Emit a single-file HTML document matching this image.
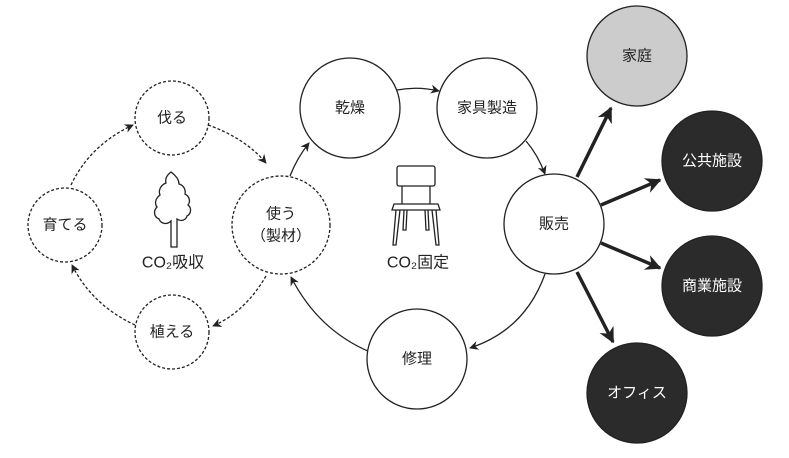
<!DOCTYPE html>
<html><head><meta charset="utf-8"><style>
html,body{margin:0;padding:0;background:#fff;}
svg{display:block;font-family:"Liberation Sans","Noto Sans CJK JP",sans-serif;}
</style></head><body>
<svg width="789" height="458" viewBox="0 0 789 458" xmlns="http://www.w3.org/2000/svg">
<defs>
<marker id="a" viewBox="0 0 10 10" refX="9" refY="5" markerWidth="7" markerHeight="7" orient="auto"><path d="M0,0 L10,5 L0,10 L3,5z" fill="#222"/></marker>
<marker id="b" viewBox="0 0 10 10" refX="9" refY="5" markerWidth="4.5" markerHeight="4.5" orient="auto"><path d="M0,0 L10,5 L0,10 L3,5z" fill="#222"/></marker>
</defs>
<g fill="none" stroke="#222" stroke-width="1.3">
<g stroke-dasharray="3,2">
<path d="M208,125 Q245,138 266,163" marker-end="url(#a)"/>
<path d="M266,276 Q245,312 213,326" marker-end="url(#a)"/>
<path d="M135,325 Q92,305 72,265" marker-end="url(#a)"/>
<path d="M71,185 Q90,145 133,125" marker-end="url(#a)"/>
</g>
<path d="M290,176 Q297,158 309,143" marker-end="url(#a)"/>
<path d="M397,90 Q418,86 439,91" marker-end="url(#a)"/>
<path d="M526,141 Q538,155 545,174" marker-end="url(#a)"/>
<path d="M545,274 Q525,330 470,348" marker-end="url(#a)"/>
<path d="M370,352 Q318,330 291,277" marker-end="url(#a)"/>
<g stroke-width="3.5">
<path d="M577,177 L611,108" marker-end="url(#b)"/>
<path d="M601,205 L660,180" marker-end="url(#b)"/>
<path d="M601,243 L660,268" marker-end="url(#b)"/>
<path d="M577,272 L613,342" marker-end="url(#b)"/>
</g>
</g>
<g stroke="#222" stroke-width="1.3" fill="#fff">
<g stroke-dasharray="3,2">
<circle cx="172" cy="118" r="37"/>
<circle cx="65" cy="225" r="37"/>
<circle cx="172" cy="332" r="37"/>
<circle cx="281" cy="225" r="49"/>
</g>
<circle cx="350" cy="108" r="50"/>
<circle cx="487" cy="108" r="50"/>
<circle cx="554" cy="224" r="50"/>
<circle cx="417" cy="359" r="50"/>
<circle cx="637" cy="56" r="50" fill="#cccccc"/>
<circle cx="712" cy="161" r="50" fill="#2b2b2b"/>
<circle cx="712" cy="286" r="50" fill="#2b2b2b"/>
<circle cx="637" cy="393" r="50" fill="#2b2b2b"/>
</g>
<g fill="none" stroke="#222" stroke-width="1.3">
<path d="M171,172 c-4,3 -6,7 -5,11 c-5,2 -8,7 -6,12 c-4,3 -6,8 -3,12 c-4,4 -3,10 2,12 c2,5 8,6 12,2 l0,26 l6,0 l0,-28 c4,3 9,1 10,-3 c4,-2 5,-8 1,-11 c3,-4 1,-9 -3,-11 c1,-5 -2,-9 -6,-10 c0,-5 -4,-9 -8,-12z"/>
<rect x="397" y="166" width="38" height="20" rx="2"/>
<path d="M402,186 v18 M430,186 v18"/>
<path d="M394,204 h44 l2,6 h-48z"/>
<path d="M396,210 l-3,35 h3 l4,-35 M404,210 l-1,20 h3 l1,-20 M428,210 l1,20 h-3 l-1,-20 M436,210 l3,35 h-3 l-4,-35"/>
</g>
<g font-size="15" fill="#222" text-anchor="middle" dominant-baseline="central">
<text x="172" y="118">伐る</text>
<text x="65" y="225">育てる</text>
<text x="172" y="332">植える</text>
<text x="281" y="214">使う</text>
<text x="281" y="236">（製材）</text>
<text x="350" y="108">乾燥</text>
<text x="487" y="108">家具製造</text>
<text x="554" y="224">販売</text>
<text x="417" y="359">修理</text>
<text x="173" y="263" font-size="16">CO₂吸収</text>
<text x="418" y="263" font-size="16">CO₂固定</text>
<text x="637" y="56">家庭</text>
<text x="712" y="161" fill="#fff">公共施設</text>
<text x="712" y="286" fill="#fff">商業施設</text>
<text x="637" y="393" fill="#fff">オフィス</text>
</g>
</svg>
</body></html>
